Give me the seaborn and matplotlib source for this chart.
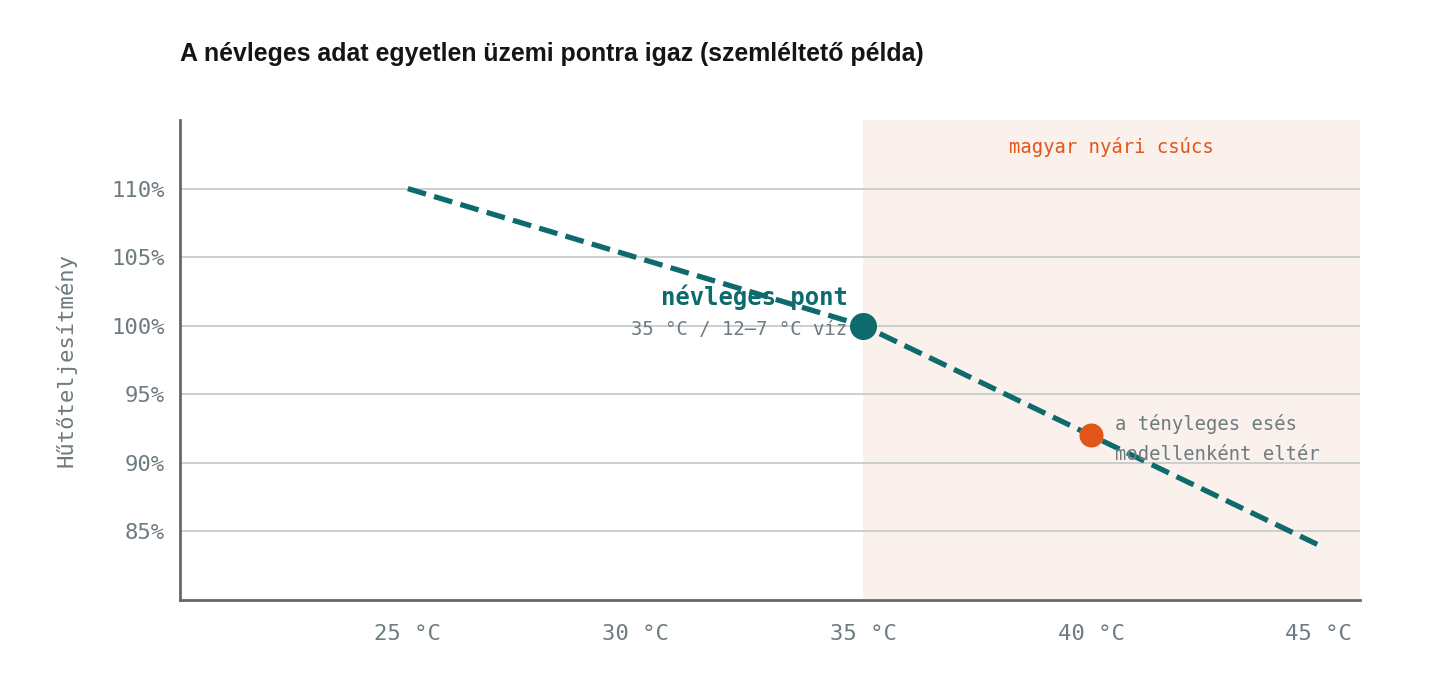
import matplotlib
matplotlib.use("Agg")
import matplotlib.pyplot as plt
import seaborn as sns
import pandas as pd

# data
temps = [25, 30, 35, 40, 45]
capacity = [110, 105, 100, 92, 84]
rated_point = (35, 100)
real_point = (40, 92)
y_ticks = [85, 90, 95, 100, 105, 110]
x_ticks = [25, 30, 35, 40, 45]

teal = "#0d6b6e"
orange = "#e0561b"
gray = "#6e7b80"
mono = ["DejaVu Sans Mono", "Liberation Mono"]

sns.set_style("white")
plt.rcParams["font.family"] = ["Liberation Sans", "DejaVu Sans"]

df = pd.DataFrame({"temp": temps, "cap": capacity})

fig = plt.figure(figsize=(14.4, 6.8), dpi=100)
ax = fig.add_axes([0.125, 0.1176, 0.8194, 0.7059])

# summer peak band
ax.axvspan(35, 45.9, color="#fbf1ec", zorder=0, lw=0)
for yv in y_ticks:
    ax.axhline(yv, color="#c6cccd", lw=1.3, zorder=1)

sns.lineplot(data=df, x="temp", y="cap", ax=ax, color=teal, linewidth=3.8,
             linestyle=(0, (3.6, 1.6)), zorder=3)
ax.scatter([rated_point[0]], [rated_point[1]], s=380, color=teal, zorder=4, lw=0)
ax.scatter([real_point[0]], [real_point[1]], s=300, color=orange, zorder=4, lw=0)

ax.set_xlim(20, 45.9)
ax.set_ylim(80, 115)
ax.set_xticks(x_ticks)
ax.set_xticklabels([f"{t} °C" for t in x_ticks], family=mono, fontsize=16, color=gray)
ax.set_yticks(y_ticks)
ax.set_yticklabels([f"{v}%" for v in y_ticks], family=mono, fontsize=16, color=gray)
ax.tick_params(axis="x", length=0, pad=17)
ax.tick_params(axis="y", length=0, pad=11)
ax.set_xlabel("")
ax.set_ylabel("Hűtőteljesítmény", family=mono, fontsize=16, color=gray, labelpad=25)

for side in ["top", "right"]:
    ax.spines[side].set_visible(False)
for side in ["left", "bottom"]:
    ax.spines[side].set_color("#5f6b70")
    ax.spines[side].set_linewidth(2)

ax.text(34.65, 102.1, "névleges pont", family=mono, fontsize=17.2, fontweight="bold",
        color=teal, ha="right", va="center", zorder=5)
ax.text(34.65, 99.7, "35 °C / 12–7 °C víz", family=mono, fontsize=13.6,
        color=gray, ha="right", va="center", zorder=5)
ax.text(40.53, 91.75, "a tényleges esés\nmodellenként eltér", family=mono, fontsize=13.6,
        color=gray, ha="left", va="center", linespacing=1.75, zorder=5)
ax.text(40.45, 113.0, "magyar nyári csúcs", family=mono, fontsize=13.6,
        color=orange, ha="center", va="center", zorder=5)

fig.text(0.125, 0.92, "A névleges adat egyetlen üzemi pontra igaz (szemléltető példa)",
         fontsize=17.9, fontweight="bold", color="#151515", ha="left", va="center")

fig.savefig("out.png", dpi=100)
